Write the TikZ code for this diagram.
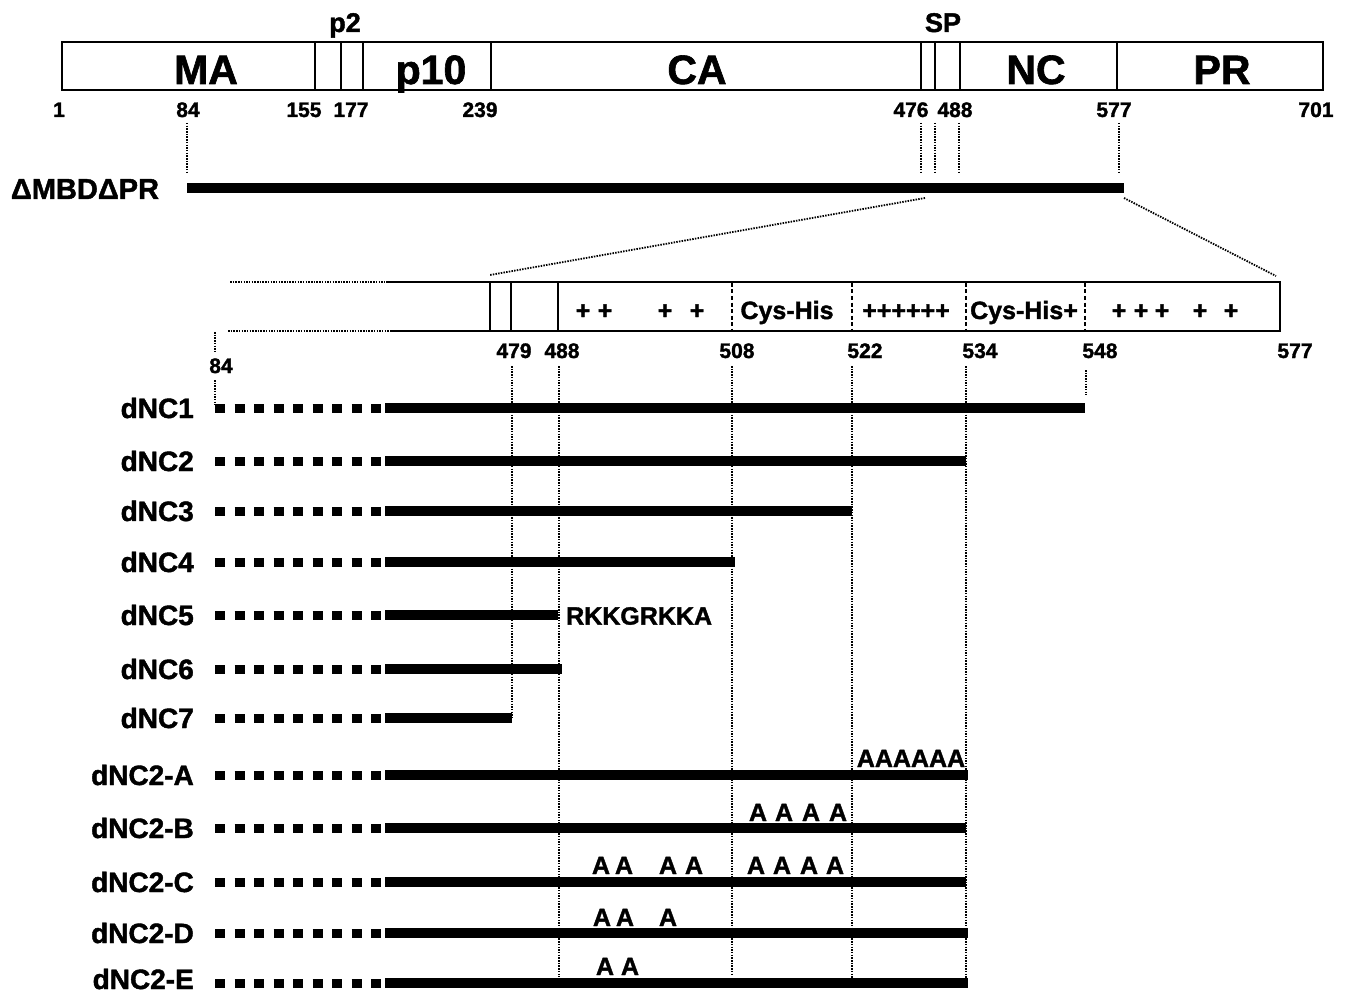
\documentclass[tikz,border=0pt]{standalone}
\usepackage{fontspec}
\setmainfont{Liberation Sans}[BoldFeatures={FakeBold=1.5}]
\begin{document}
\begin{tikzpicture}[x=1pt,y=-1pt,
  every node/.style={inner sep=0pt},
  big/.style={font=\fontsize{41}{41}\selectfont\bfseries, anchor=base},
  mid/.style={font=\fontsize{27}{27}\selectfont\bfseries, anchor=base},
  num/.style={font=\fontsize{21}{21}\selectfont\bfseries, anchor=base},
  lbl/.style={font=\fontsize{28}{28}\selectfont\bfseries, anchor=east},
  inb/.style={font=\fontsize{25}{25}\selectfont\bfseries, anchor=base},
  ala/.style={font=\fontsize{25}{25}\selectfont\bfseries, anchor=base},
  frame/.style={line width=2.4pt},
  divl/.style={line width=2pt},
  bar/.style={line width=10pt},
  sqbar/.style={line width=9pt, dash pattern=on 10pt off 9.5pt},
  vdot/.style={line width=1.8pt, dash pattern=on 1.5pt off 1.2pt},
  ddiv/.style={line width=2.6pt, dash pattern=on 4pt off 2.5pt},
]
\useasboundingbox (0,0) rectangle (1350,995);

% ---------- top Gag box ----------
\draw[frame] (62,42) rectangle (1323,90);
\foreach \x in {315,341,363,491,921,935,960,1117} \draw[divl] (\x,42)--(\x,90);
\node[big] (tMA) at (206,84) {MA};
\node[big] (tp10) at (431,84) {p10};
\node[big] (tCA) at (697,84) {CA};
\node[big] (tNC) at (1036,84) {NC};
\node[big] (tPR) at (1222,84) {PR};
\node[mid] (tp2) at (345,32) {p2};
\node[mid] (tSP) at (943,32) {SP};
\foreach \x/\t in {59/1,188/84,304/155,351/177,480/239,911/476,955/488,1114/577,1316/701}
  \node[num] (n\t) at (\x,117) {\t};

% dotted guides to the deletion construct
\foreach \x in {187,921,935,959,1119} \draw[vdot] (\x,123)--(\x,174);
\node[font=\fontsize{29}{29}\selectfont\bfseries] (lMBD) at (85,189) {ΔMBDΔPR};
\coordinate (mbdL) at (187,188);
\coordinate (mbdR) at (1124,188);
\draw[bar] (mbdL)--(mbdR);

% zoom connectors
\coordinate (zA) at (925,198);
\coordinate (zB) at (490,275);
\coordinate (zC) at (1124,198);
\coordinate (zD) at (1276,276);
\draw[vdot] (zA)--(zB);
\draw[vdot] (zC)--(zD);

% ---------- expanded NC box ----------
\draw[frame] (490,282) rectangle (1280,331);
\draw[frame] (386,282)--(490,282);
\draw[frame] (391,331)--(490,331);
\draw[vdot,line width=2.2pt] (230,282)--(386,282);
\draw[vdot,line width=2.2pt] (228,331)--(391,331);
\foreach \x in {511,558} \draw[frame] (\x,282)--(\x,331);
\foreach \x in {732,852,966,1085} \draw[ddiv] (\x,283)--(\x,330);
\foreach \x in {583,605,665,697,1119,1141,1162,1200,1231} \node[inb] at (\x,319) {+};
\node[inb] (cys1) at (787,319) {Cys-His};
\node[inb] (plus6) at (906,319) {++++++};
\node[inb] (cys2) at (1024,319) {Cys-His+};
\foreach \x/\t in {514/479,562/488,737/508,865/522,980/534,1100/548,1295/577}
  \node[num] (m\t) at (\x,358) {\t};
\node[num] (m84) at (221,373) {84};
\draw[vdot] (215,332)--(215,352);
\draw[vdot] (215,380)--(215,405);

% vertical guides
\draw[vdot] (512,366)--(512,718);
\draw[vdot] (559,366)--(559,977);
\draw[vdot] (732,366)--(732,975);
\draw[vdot] (852,366)--(852,985);
\draw[vdot] (966,366)--(966,985);
\draw[vdot] (1086,370)--(1086,395);

% ---------- constructs ----------
\foreach \y/\ly/\e/\lab in {408/408/1085/dNC1,461/461/966/dNC2,511/511/852/dNC3,562/562/735/dNC4,615/615/558/dNC5,669/669/562/dNC6,718/718/512/dNC7,
  775/775/968/dNC2-A,828/828/966/dNC2-B,882/882/966/dNC2-C,933/933/968/dNC2-D,983/979/968/dNC2-E}{
  \node[lbl] (L\lab) at (194,\ly) {\lab};
  \coordinate (S\lab) at (215,\y);
  \coordinate (M\lab) at (385,\y);
  \coordinate (E\lab) at (\e,\y);
  \draw[sqbar] (S\lab)--(M\lab);
  \draw[bar] (M\lab)--(E\lab);
}
\node[font=\fontsize{25}{25}\selectfont\bfseries, anchor=west] (rkk) at (566,616) {RKKGRKKA};

% alanine substitutions
\node[ala] (a6) at (911,767) {AAAAAA};
\foreach \x in {758,784,811,838} \node[ala] at (\x,821) {A};
\foreach \x in {601,624,668,694,756,782,809,835} \node[ala] at (\x,874) {A};
\foreach \x in {602,625,668} \node[ala] at (\x,926) {A};
\foreach \x in {605,630} \node[ala] at (\x,975) {A};
\end{tikzpicture}
\end{document}
